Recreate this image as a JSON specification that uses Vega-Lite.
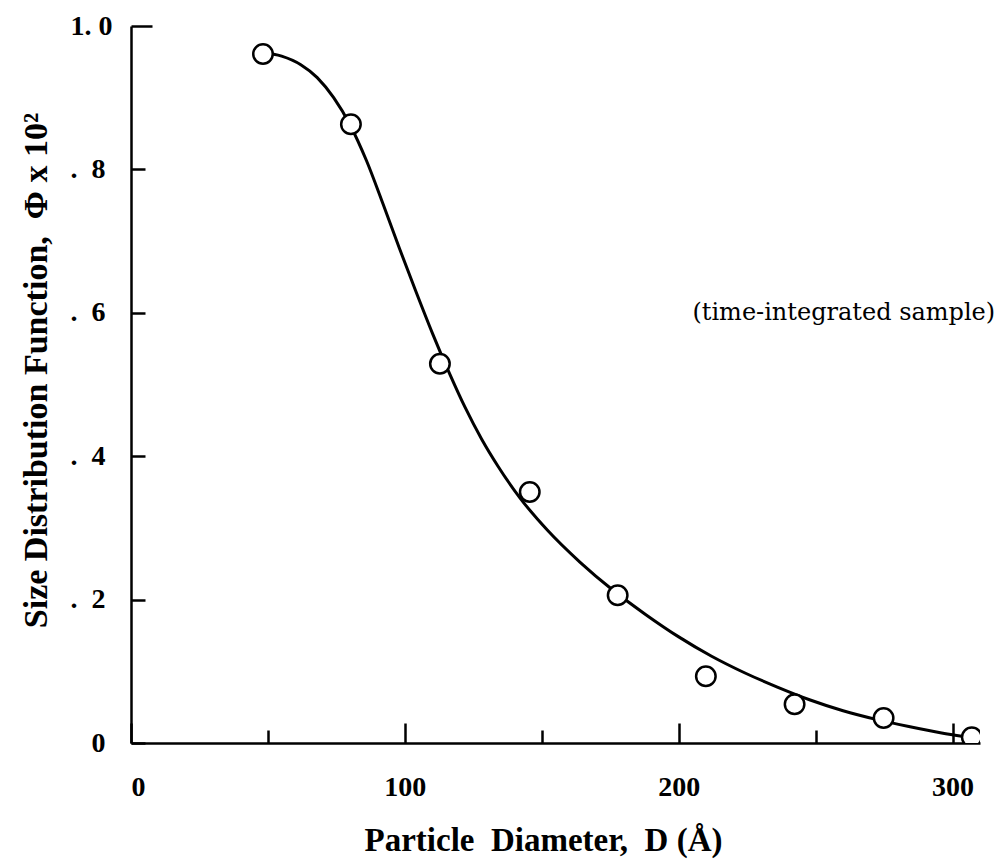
{
  "$schema": "https://vega.github.io/schema/vega-lite/v6.json",
  "width": 849,
  "height": 717,
  "autosize": {"type": "none"},
  "padding": {"left": 131, "top": 26, "right": 22, "bottom": 123},
  "background": "white",
  "config": {
    "view": {"stroke": null},
    "axis": {
      "grid": false,
      "domainColor": "black",
      "tickColor": "black",
      "domainWidth": 2.5,
      "tickWidth": 2.5,
      "labelFont": "Liberation Serif",
      "labelFontWeight": "bold",
      "labelFontSize": 28,
      "labelColor": "black",
      "titleFont": "Liberation Serif",
      "titleFontWeight": "bold",
      "titleColor": "black"
    }
  },
  "datasets": {
    "curve": [
      {"d": 48, "phi": 0.963},
      {"d": 55, "phi": 0.958},
      {"d": 62, "phi": 0.946},
      {"d": 68, "phi": 0.928},
      {"d": 74, "phi": 0.9},
      {"d": 80, "phi": 0.862},
      {"d": 86, "phi": 0.812},
      {"d": 92, "phi": 0.752},
      {"d": 98, "phi": 0.69},
      {"d": 104, "phi": 0.63},
      {"d": 110, "phi": 0.572},
      {"d": 116, "phi": 0.518},
      {"d": 122, "phi": 0.468},
      {"d": 128, "phi": 0.424},
      {"d": 134, "phi": 0.386},
      {"d": 142, "phi": 0.342},
      {"d": 152, "phi": 0.297},
      {"d": 164, "phi": 0.252},
      {"d": 176, "phi": 0.213},
      {"d": 188, "phi": 0.179},
      {"d": 200, "phi": 0.148},
      {"d": 212, "phi": 0.121},
      {"d": 224, "phi": 0.098},
      {"d": 236, "phi": 0.078},
      {"d": 248, "phi": 0.06},
      {"d": 260, "phi": 0.045},
      {"d": 272, "phi": 0.033},
      {"d": 284, "phi": 0.023},
      {"d": 296, "phi": 0.014},
      {"d": 304, "phi": 0.009}
    ],
    "points": [
      {"d": 48.2, "phi": 0.961},
      {"d": 80.3, "phi": 0.863},
      {"d": 112.8, "phi": 0.529},
      {"d": 145.6, "phi": 0.35},
      {"d": 177.7, "phi": 0.206},
      {"d": 209.9, "phi": 0.093},
      {"d": 242.3, "phi": 0.054},
      {"d": 274.8, "phi": 0.035},
      {"d": 307, "phi": 0.008}
    ],
    "note": [
      {"d": 205, "phi": 0.6, "text": "(time-integrated sample)"}
    ]
  },
  "layer": [
    {
      "data": {"name": "curve"},
      "mark": {"type": "line", "interpolate": "monotone", "color": "black", "strokeWidth": 3},
      "encoding": {
        "x": {
          "field": "d",
          "type": "quantitative",
          "scale": {"domain": [0, 310], "nice": false},
          "axis": {
            "values": [0, 50, 100, 150, 200, 250, 300],
            "labelExpr": "datum.value % 100 === 0 ? datum.label : ''",
            "tickSize": {"condition": {"test": "datum.value % 100 === 0", "value": -20}, "value": -13},
            "labelPadding": 50,
            "labelBaseline": "top",
            "title": "Particle\u00a0 Diameter,\u00a0 D (Å)",
            "titleFontSize": 33,
            "titleX": 412,
            "titleY": 97,
            "titleBaseline": "middle"
          }
        },
        "y": {
          "field": "phi",
          "type": "quantitative",
          "scale": {"domain": [0, 1], "nice": false},
          "axis": {
            "values": [0, 0.2, 0.4, 0.6, 0.8, 1],
            "labelExpr": "datum.value == 0 ? '0' : datum.value == 1 ? '1.\u00a00' : '.\u00a0 ' + round(datum.value * 10)",
            "tickSize": {"condition": {"test": "datum.value == 1", "value": -21}, "value": -14},
            "labelPadding": 40,
            "title": "Size Distribution Function,\u00a0 Φ x 10²",
            "titleFontSize": 34,
            "titleX": -95,
            "titleY": 344,
            "titleBaseline": "middle"
          }
        }
      }
    },
    {
      "data": {"name": "points"},
      "mark": {"type": "point", "shape": "circle", "filled": true, "fill": "white", "stroke": "black", "strokeWidth": 2.5, "size": 380, "opacity": 1, "clip": true},
      "encoding": {
        "x": {"field": "d", "type": "quantitative"},
        "y": {"field": "phi", "type": "quantitative"}
      }
    },
    {
      "data": {"name": "note"},
      "mark": {"type": "text", "font": "DejaVu Serif", "fontSize": 24, "align": "left", "baseline": "middle", "color": "black"},
      "encoding": {
        "x": {"field": "d", "type": "quantitative"},
        "y": {"field": "phi", "type": "quantitative"},
        "text": {"field": "text"}
      }
    }
  ]
}
